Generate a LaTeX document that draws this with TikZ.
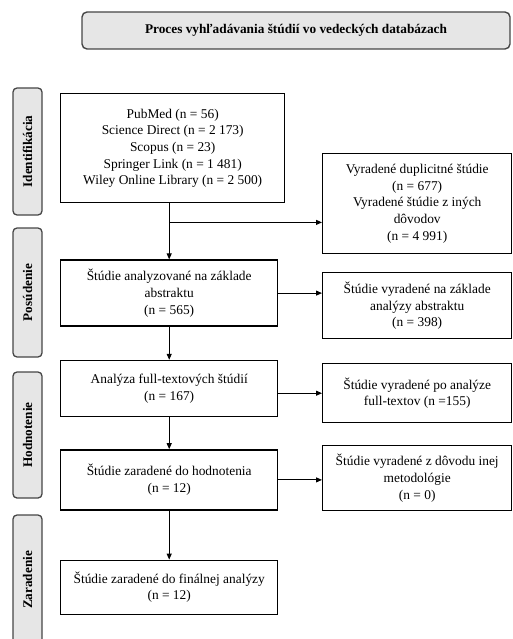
\documentclass[tikz,border=0pt]{standalone}
\usepackage{fontspec}
\setmainfont{Liberation Serif}
\usetikzlibrary{arrows.meta, positioning, calc}
\definecolor{tabFill}{RGB}{230,230,230}
\definecolor{tabEdge}{RGB}{70,70,70}

\begin{document}
\begin{tikzpicture}[
    block/.style={rectangle, draw=black, line width=1.4pt, fill=white, align=center, inner sep=1pt, font={\fontsize{13.4}{16.7}\selectfont}},
    rblock/.style={block, minimum width=189pt, anchor=north west},
    lblock/.style={block, minimum width=217pt, anchor=north west},
    sidetab/.style={rectangle, rounded corners=4pt, draw=tabEdge, line width=1.3pt, fill=tabFill, rotate=90, minimum height=29pt, font={\fontsize{13.2}{15}\selectfont\bfseries}},
    titlebox/.style={rectangle, rounded corners=5pt, draw=tabEdge, line width=1.4pt, fill=tabFill, minimum width=428pt, minimum height=37pt, font={\fontsize{13.3}{15}\selectfont\bfseries}},
    arrow/.style={-{Triangle[length=6pt, width=5pt]}, line width=1pt, black}
]
\useasboundingbox (0,0) rectangle (512pt,-639pt);

% Title
\node[titlebox] (title) at (296pt,-30.5pt) {Proces vyhľadávania štúdií vo vedeckých databázach};

% Phase tabs on the left
\node[sidetab, minimum width=127pt] (tabid) at (27.5pt,-151.5pt) {Identifikácia};
\node[sidetab, minimum width=129pt] (tabpos) at (27.5pt,-292.5pt) {Posúdenie};
\node[sidetab, minimum width=126pt] (tabhod) at (27.5pt,-435pt) {Hodnotenie};
\node[sidetab, minimum width=130pt] (tabzar) at (27.5pt,-580pt) {Zaradenie};

% Main column
\node[lblock, minimum width=224pt, minimum height=109pt] (db) at (60pt,-93pt) {PubMed (n = 56)\\Science Direct (n = 2 173)\\Scopus (n = 23)\\Springer Link (n = 1 481)\\Wiley Online Library (n = 2 500)};
\node[lblock, below=56pt of db.south west, anchor=north west, minimum height=66pt] (abs) {Štúdie analyzované na základe\\abstraktu\\(n = 565)};
\node[lblock, below=33pt of abs.south west, anchor=north west, minimum height=56pt] (full) {Analýza full-textových štúdií\\(n = 167)};
\node[lblock, below=32pt of full.south west, anchor=north west, minimum height=60pt] (eval) {Štúdie zaradené do hodnotenia\\(n = 12)};
\node[lblock, below=49pt of eval.south west, anchor=north west, minimum height=54pt] (final) {Štúdie zaradené do finálnej analýzy\\(n = 12)};

% Excluded column
\node[rblock, minimum height=100pt] (dup) at (322pt,-153pt) {Vyradené duplicitné štúdie\\(n = 677)\\Vyradené štúdie z iných\\dôvodov\\(n = 4 991)};
\node[rblock, minimum height=66pt] (absx) at (322pt,-272pt) {Štúdie vyradené na základe\\analýzy abstraktu\\(n = 398)};
\node[rblock, minimum height=59pt] (fullx) at (322pt,-363pt) {Štúdie vyradené po analýze\\full-textov (n =155)};
\node[rblock, minimum height=65pt] (meth) at (322pt,-445pt) {Štúdie vyradené z dôvodu inej\\metodológie\\(n = 0)};

% Arrows
\coordinate (split) at ($(db.south -| abs.north)+(0,-19pt)$);
\draw[arrow] (db.south -| abs.north) -- (abs.north);
\draw[arrow] (split) -- (split -| dup.west);
\draw[arrow] (abs.south) -- (full.north);
\draw[arrow] (full.south) -- (eval.north);
\draw[arrow] (eval.south) -- (final.north);

\draw[arrow] (abs.east) -- (abs.east -| absx.west);
\draw[arrow] (full.east |- fullx.west) -- (fullx.west);
\draw[arrow] (eval.east) -- (eval.east -| meth.west);

\end{tikzpicture}
\end{document}
